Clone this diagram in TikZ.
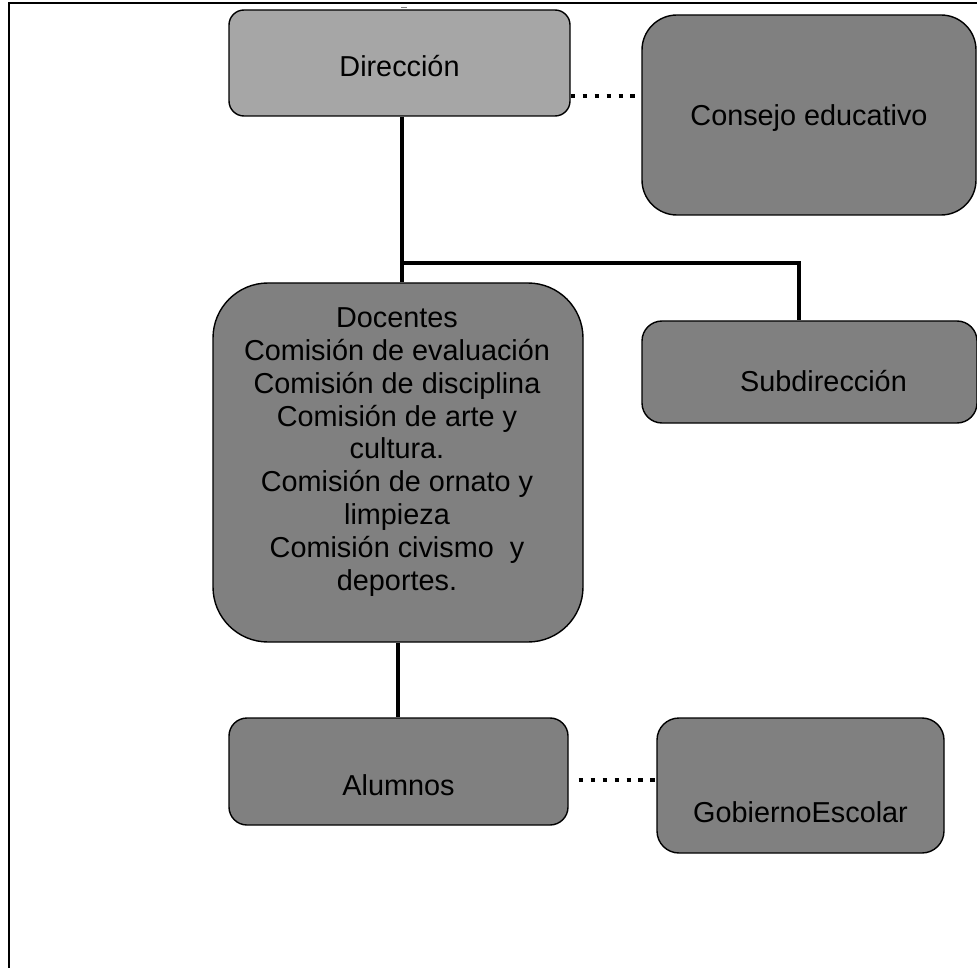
\documentclass[tikz,border=0pt]{standalone}
\usepackage{fontspec}
\setmainfont{Liberation Sans}
\definecolor{boxgray}{HTML}{808080}
\definecolor{topgray}{HTML}{A6A6A6}

\begin{document}
\begin{tikzpicture}[box/.style={draw,line width=1pt,fill=boxgray,rounded corners=#1,text depth=0pt},
		conn/.style={line width=2.8pt},
		dots/.style={line width=3pt,dash pattern=on 3pt off 5.5pt},
		font=\fontsize{20.5}{23.4}\selectfont]
	\useasboundingbox (0,0) rectangle (24.425,-24.2);
	\draw[line width=1.4pt] (0.225,-24.2) -- (0.225,-0.075) -- (24.425,-0.075);
	\fill[gray] (10.025,-0.165) rectangle (10.175,-0.21);
	\node[box=0.375cm,fill=topgray,minimum width=8.525cm,minimum height=2.65cm,text height=0.7cm] (dir) at (9.9875,-1.575) {Dirección};
	\node[box=0.875cm,minimum width=8.35cm,minimum height=5cm,text height=0.55cm] (con) at (20.225,-2.875) {Consejo educativo};
	\node[box=1.375cm,minimum width=9.25cm,minimum height=8.975cm] (doc) at (9.95,-11.5625) {};
	\node[align=center] (doctext) at (9.925,-11.3) {Docentes\\Comisión de evaluación\\Comisión de disciplina\\Comisión de arte y\\cultura.\\Comisión de ornato y\\limpieza\\Comisión civismo~~y\\deportes.};
	\node[box=0.5cm,minimum width=8.375cm,minimum height=2.55cm,text height=0.95cm] (sub) at (20.2375,-9.3) {\hspace*{0.7cm}Subdirección};
	\node[box=0.45cm,minimum width=8.475cm,minimum height=2.675cm,text height=1.2cm] (alu) at (9.9625,-19.2875) {Alumnos};
	\node[box=0.55cm,minimum width=7.175cm,minimum height=3.375cm,text height=1.825cm] (gob) at (20.0125,-19.6375) {GobiernoEscolar};
	\coordinate (branch) at (10.05,-6.575);
	% lineas
	\draw[conn] (dir.south -| branch) -- (branch);
	\draw[conn] (doc.north -| branch) -- (branch) -| ([xshift=-0.26cm]sub.north);
	\draw[conn] (doc.south) -- (doc.south |- alu.north);
	\draw[dots] ([yshift=-0.825cm]dir.east) -- ([yshift=-0.825cm]dir.east -| con.west);
	\draw[dots] ([xshift=0.25cm,yshift=-0.21cm]alu.east) -- ([yshift=-0.21cm]alu.east -| gob.west);
\end{tikzpicture}
\end{document}
